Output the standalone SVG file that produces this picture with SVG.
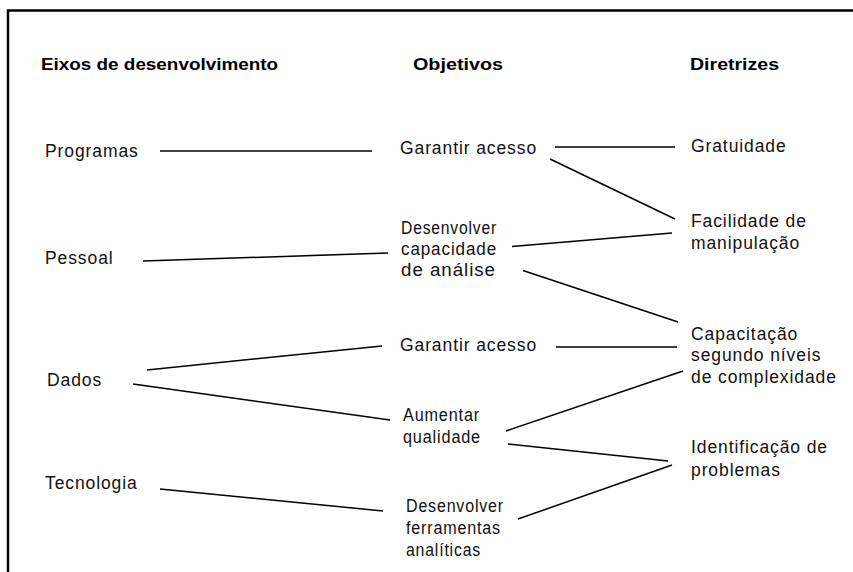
<svg xmlns="http://www.w3.org/2000/svg" width="853" height="572" viewBox="0 0 853 572">
<style>
.h{font-family:"Liberation Sans",Arial,sans-serif;font-weight:bold;font-size:16.5px;fill:#000}
.t{font-family:"Liberation Sans",Arial,sans-serif;font-size:17.5px;letter-spacing:0.9px;fill:#111}
.c line{stroke:#000;stroke-width:1.5}
</style>
<rect width="853" height="572" fill="#fff"/>
<g id="frame" stroke="#000" stroke-width="2.5" fill="none">
<polyline points="8,572 8,10.5 853,10.5"/>
</g>
<g id="headers">
<text class="h" x="41" y="69.5" textLength="237" lengthAdjust="spacingAndGlyphs">Eixos de desenvolvimento</text>
<text class="h" x="413" y="69.5" textLength="90" lengthAdjust="spacingAndGlyphs">Objetivos</text>
<text class="h" x="690" y="69.5" textLength="89" lengthAdjust="spacingAndGlyphs">Diretrizes</text>
</g>
<g id="programas"><text class="t" x="45" y="157">Programas</text></g>
<g id="pessoal"><text class="t" x="45" y="264">Pessoal</text></g>
<g id="dados"><text class="t" x="47" y="386">Dados</text></g>
<g id="tecnologia"><text class="t" x="45" y="489">Tecnologia</text></g>
<g id="garantir1"><text class="t" x="400" y="154">Garantir acesso</text></g>
<g id="desenvolver1"><text class="t"><tspan x="401" y="234" textLength="96" lengthAdjust="spacingAndGlyphs">Desenvolver</tspan><tspan x="401" y="255" textLength="96" lengthAdjust="spacingAndGlyphs">capacidade</tspan><tspan x="401" y="276" textLength="95" lengthAdjust="spacingAndGlyphs">de análise</tspan></text></g>
<g id="garantir2"><text class="t" x="400" y="351">Garantir acesso</text></g>
<g id="aumentar"><text class="t"><tspan x="403" y="421" textLength="77" lengthAdjust="spacingAndGlyphs">Aumentar</tspan><tspan x="403" y="443" textLength="78" lengthAdjust="spacingAndGlyphs">qualidade</tspan></text></g>
<g id="desenvolver2"><text class="t"><tspan x="406" y="512" textLength="98" lengthAdjust="spacingAndGlyphs">Desenvolver</tspan><tspan x="406" y="534" textLength="95" lengthAdjust="spacingAndGlyphs">ferramentas</tspan><tspan x="406" y="556" textLength="75" lengthAdjust="spacingAndGlyphs">analíticas</tspan></text></g>
<g id="gratuidade"><text class="t" x="691" y="152">Gratuidade</text></g>
<g id="facilidade"><text class="t"><tspan x="691" y="227">Facilidade de</tspan><tspan x="691" y="249">manipulação</tspan></text></g>
<g id="capacitacao"><text class="t"><tspan x="691" y="340">Capacitação</tspan><tspan x="691" y="361">segundo níveis</tspan><tspan x="691" y="383">de complexidade</tspan></text></g>
<g id="identificacao"><text class="t"><tspan x="691" y="453">Identificação de</tspan><tspan x="691" y="476">problemas</tspan></text></g>
<g id="connectors" class="c">
<line x1="160" y1="151" x2="372" y2="151"/>
<line x1="555" y1="147" x2="675" y2="147"/>
<line x1="550" y1="159" x2="675" y2="219"/>
<line x1="143" y1="261" x2="388" y2="253"/>
<line x1="512" y1="246.5" x2="672" y2="233"/>
<line x1="523" y1="270.5" x2="678" y2="322"/>
<line x1="147" y1="370" x2="382" y2="346"/>
<line x1="556" y1="347" x2="677" y2="347"/>
<line x1="133" y1="384" x2="390" y2="420"/>
<line x1="506" y1="431" x2="683" y2="371"/>
<line x1="508" y1="444" x2="668" y2="461"/>
<line x1="160" y1="489" x2="383" y2="511"/>
<line x1="518" y1="519" x2="672" y2="465"/>
</g>
</svg>
